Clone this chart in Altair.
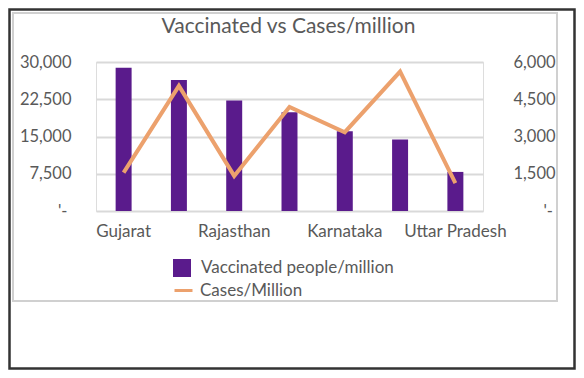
import altair as alt
import pandas as pd

states = ["Gujarat", "Delhi", "Rajasthan", "Kerala", "Karnataka", "Maharashtra", "Uttar Pradesh"]
vaccinated = [28860, 26400, 22270, 19870, 16070, 14400, 7870]
cases = [1547, 5040, 1413, 4187, 3173, 5613, 1120]
shown_labels = ["Gujarat", "Rajasthan", "Karnataka", "Uttar Pradesh"]
left_ticks = [0, 7500, 15000, 22500, 30000]
right_ticks = [0, 1500, 3000, 4500, 6000]
title_text = ["Vaccinated vs Cases/million"]

df = pd.DataFrame({
    "State": states,
    "Vaccinated": vaccinated,
    "Cases": cases,
    "s1": ["Vaccinated people/million"] * len(states),
    "s2": ["Cases/Million"] * len(states),
})

FONT = "Lato"
TXT = "#595959"
W, H = 387, 149

xenc = alt.X("State:N", sort=states,
             scale=alt.Scale(paddingInner=0.711, paddingOuter=0.355),
             axis=alt.Axis(title=None, values=shown_labels, labelAngle=0, domain=False,
                           ticks=False, grid=False, labelFont=FONT, labelFontSize=17,
                           labelColor=TXT, labelPadding=12))

frame_df = pd.DataFrame({"t": title_text})
outer = alt.Chart(frame_df).mark_rect(fill="transparent", stroke="#333333", strokeWidth=2.5).encode(
    x=alt.value(-86.5), x2=alt.value(478.5), y=alt.value(-52.5), y2=alt.value(306.5))
inner = alt.Chart(frame_df).mark_rect(fill="transparent", stroke="#d0d0d0", strokeWidth=2).encode(
    x=alt.value(-83), x2=alt.value(461), y=alt.value(-49), y2=alt.value(239))
title = alt.Chart(frame_df).mark_text(font=FONT, fontSize=21, color=TXT, baseline="alphabetic",
                                      align="center").encode(
    text="t:N", x=alt.value(192.5), y=alt.value(-29))

bars = alt.Chart(df).mark_bar().encode(
    x=xenc,
    y=alt.Y("Vaccinated:Q", scale=alt.Scale(domain=[0, 30000], nice=False),
            axis=alt.Axis(title=None, orient="left", values=left_ticks, domain=False, ticks=False,
                          grid=True, gridColor="#d9d9d9", gridWidth=1.8,
                          labelFont=FONT, labelFontSize=16.5, labelColor=TXT,
                          labelPadding={"condition": {"test": "datum.value == 0", "value": 29}, "value": 25},
                          labelExpr="datum.value == 0 ? \"'-\" : format(datum.value, ',')")),
    fill=alt.Fill("s1:N", scale=alt.Scale(range=["#5A1B8C"]),
                  legend=alt.Legend(title=None, orient="none", legendX=77, legendY=197,
                                    symbolType="square", symbolSize=324, labelFont=FONT,
                                    labelFontSize=17, labelColor=TXT, labelOffset=10, padding=0,
                                    labelLimit=400, symbolStrokeWidth=0)),
)

line = alt.Chart(df).mark_line(strokeWidth=4, strokeJoin="miter").encode(
    x=xenc,
    y=alt.Y("Cases:Q", scale=alt.Scale(domain=[0, 6000], nice=False),
            axis=alt.Axis(title=None, orient="right", values=right_ticks, domain=False, ticks=False,
                          grid=False, labelFont=FONT, labelFontSize=16.5, labelColor=TXT,
                          labelPadding={"condition": {"test": "datum.value == 0", "value": 60}, "value": 30},
                          labelAlign="left",
                          labelExpr="datum.value == 0 ? \"'-\" : format(datum.value, ',')")),
    stroke=alt.Stroke("s2:N", scale=alt.Scale(range=["#ECA16D"]),
                      legend=alt.Legend(title=None, orient="none", legendX=77, legendY=218,
                                        symbolType="stroke", symbolSize=324, symbolStrokeWidth=3,
                                        labelFont=FONT, labelFontSize=17, labelColor=TXT,
                                        labelOffset=6, padding=0, labelLimit=400)),
)

chart = alt.layer(outer, inner, title, bars, line).resolve_scale(y="independent").properties(
    width=W, height=H,
    autosize=alt.AutoSizeParams(type="none"),
    padding={"left": 88, "top": 54, "right": 93, "bottom": 159},
).configure_view(stroke=None).configure(background="white")

chart.save("out.html", embed_options={"renderer": "svg", "actions": False})
